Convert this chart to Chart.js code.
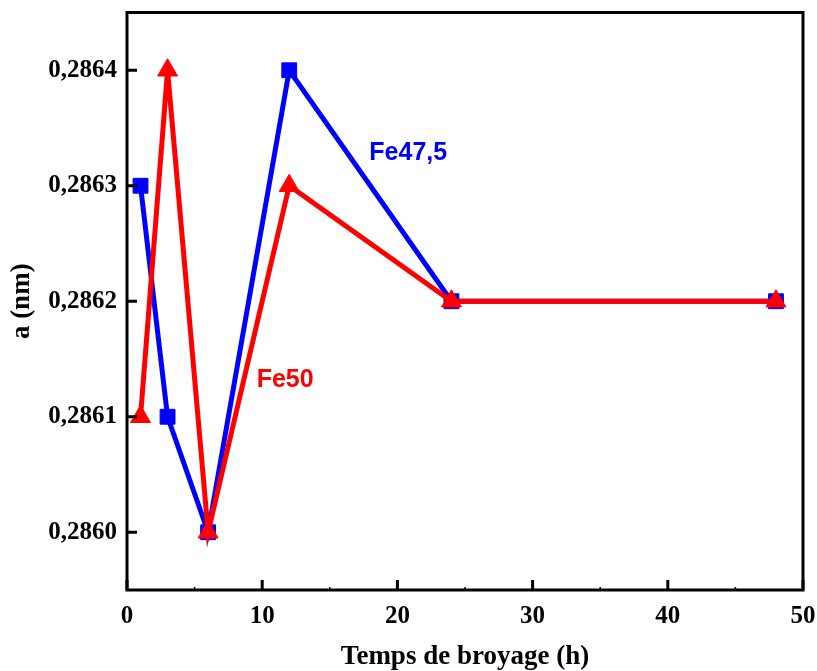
<!DOCTYPE html>
<html><head><meta charset="utf-8">
<script src="https://cdn.jsdelivr.net/npm/chart.js@4"></script>
<style>html,body{margin:0;padding:0;background:#fff}canvas{display:block}</style>
</head><body>
<canvas id="c" width="817" height="671"></canvas>
<script>
// ---- data ----
const timeHours = [1, 3, 6, 12, 24, 48];
const fe475Values = [0.2863, 0.2861, 0.2860, 0.2864, 0.2862, 0.2862];
const fe50Values = [0.2861, 0.2864, 0.2860, 0.2863, 0.2862, 0.2862];
const xTicks = [0, 10, 20, 30, 40, 50];
const xMinorTicks = [5, 15, 25, 35, 45];
const yTicks = [0.2860, 0.2861, 0.2862, 0.2863, 0.2864];
const seriesNames = ['Fe47,5', 'Fe50'];
const seriesLabelAnchors = [[20.8, 0.286328], [11.7, 0.286132]];

const toPoints = vals => timeHours.map((t, i) => ({x: t, y: vals[i]}));

const frameTicks = {
  id: 'frameTicks',
  afterDraw(chart) {
    const {ctx, chartArea: a, scales: {x, y}} = chart;
    ctx.save();
    ctx.strokeStyle = '#000';
    ctx.lineWidth = 3;
    ctx.strokeRect(a.left, a.top, a.right - a.left, a.bottom - a.top);
    ctx.beginPath();
    xTicks.forEach(v => { const px = x.getPixelForValue(v); ctx.moveTo(px, a.bottom); ctx.lineTo(px, a.bottom - 10); });
    yTicks.forEach(v => { const py = y.getPixelForValue(v); ctx.moveTo(a.left, py); ctx.lineTo(a.left + 10, py); });
    ctx.stroke();
    ctx.lineWidth = 1.5;
    ctx.beginPath();
    xMinorTicks.forEach(v => { const px = x.getPixelForValue(v); ctx.moveTo(px, a.bottom); ctx.lineTo(px, a.bottom - 3); });
    ctx.stroke();
    ctx.font = 'bold 25px "Liberation Sans", Arial, sans-serif';
    ctx.textAlign = 'center';
    ctx.textBaseline = 'middle';
    const colors = ['#0000ff', '#ff0000'];
    seriesNames.forEach((n, i) => {
      ctx.fillStyle = colors[i];
      ctx.fillText(n, x.getPixelForValue(seriesLabelAnchors[i][0]), y.getPixelForValue(seriesLabelAnchors[i][1]));
    });
    ctx.restore();
  }
};

const tickFont = {family: '"Liberation Serif", "Times New Roman", serif', size: 25, weight: 'bold'};
const yTickFont = {family: '"Liberation Serif", "Times New Roman", serif', size: 25, weight: 'bold', lineHeight: 0.7};
const titleFont = {family: '"Liberation Serif", "Times New Roman", serif', size: 27, weight: 'bold'};

new Chart(document.getElementById('c'), {
  type: 'scatter',
  data: {
    datasets: [
      {
        label: seriesNames[1],
        data: toPoints(fe50Values),
        showLine: true,
        borderColor: '#ff0000',
        backgroundColor: '#ff0000',
        borderWidth: 5,
        pointStyle: 'triangle',
        pointRadius: 11.5,
        pointHoverRadius: 11.5,
        pointBorderWidth: 1,
        clip: false
      },
      {
        label: seriesNames[0],
        data: toPoints(fe475Values),
        showLine: true,
        borderColor: '#0000ff',
        backgroundColor: '#0000ff',
        borderWidth: 5,
        pointStyle: 'rect',
        pointRadius: 10.5,
        pointHoverRadius: 10.5,
        pointBorderWidth: 1,
        clip: false
      }
    ]
  },
  options: {
    responsive: false,
    animation: false,
    events: [],
    layout: {padding: {top: 10, right: 14, left: 0, bottom: 0}},
    plugins: {legend: {display: false}, tooltip: {enabled: false}},
    scales: {
      x: {
        type: 'linear', min: 0, max: 50,
        grid: {display: false, drawTicks: false},
        border: {display: false},
        afterBuildTicks: s => { s.ticks = xTicks.map(v => ({value: v})); },
        afterFit: s => { s.height = 81; s.paddingLeft = 0; s.paddingRight = 0; },
        ticks: {font: tickFont, color: '#000', padding: 12, maxRotation: 0, autoSkip: false},
        title: {display: true, text: 'Temps de broyage (h)', font: titleFont, color: '#000', padding: {top: 0, bottom: -2}}
      },
      y: {
        type: 'linear', min: 0.28595, max: 0.28645,
        grid: {display: false, drawTicks: false},
        border: {display: false},
        afterBuildTicks: s => { s.ticks = yTicks.map(v => ({value: v})); },
        afterFit: s => { s.width = 127; s.paddingTop = 0; s.paddingBottom = 0; },
        ticks: {font: yTickFont, color: '#000', padding: 10, autoSkip: false,
          callback: v => v.toFixed(4).replace('.', ',')},
        title: {display: true, text: 'a (nm)', font: titleFont, color: '#000', padding: {top: 6, bottom: 0}}
      }
    }
  },
  plugins: [frameTicks]
});
</script>
</body></html>
